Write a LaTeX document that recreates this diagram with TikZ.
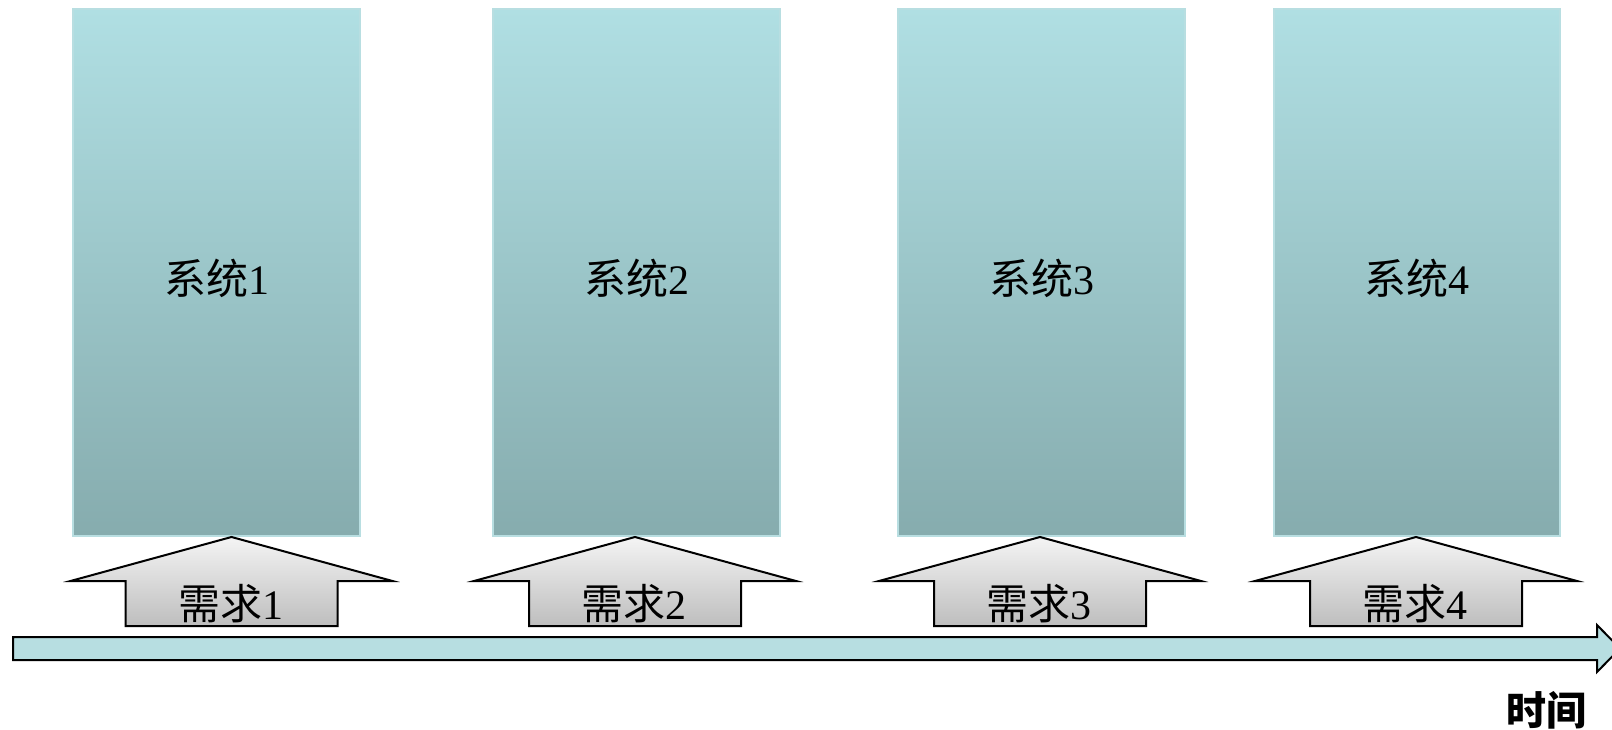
\documentclass[tikz,border=0pt]{standalone}
\usepackage{fontspec}
\setmainfont{Liberation Serif}
\newfontfamily\cjk{Noto Sans CJK SC}
\definecolor{boxtop}{HTML}{B0DFE3}
\definecolor{boxbot}{HTML}{86ACAE}
\definecolor{boxedge}{HTML}{B8DEE1}
\definecolor{arrtop}{HTML}{F4F4F4}
\definecolor{arrbot}{HTML}{BEBEBE}
\definecolor{timefill}{HTML}{B7DEE1}
\tikzset{
  sysbox/.style={draw=boxedge, line width=1.5pt, top color=boxtop, bottom color=boxbot, inner sep=0pt},
  reqarrow/.style={draw=black, line width=2pt, top color=arrtop, bottom color=arrbot, line join=miter},
  lbl/.style={inner sep=0pt, font=\fontsize{42}{44}\selectfont},
  timearrow/.style={draw=black, line width=2pt, fill=timefill, line join=miter}
}
\begin{document}
\begin{tikzpicture}[x=1pt,y=-1pt]
\useasboundingbox (0,0) rectangle (1612,730);
% system boxes
\foreach \i/\l/\r in {1/73/360, 2/493/780, 3/898/1185, 4/1274/1560}{
  \path[sysbox] (\l,9) rectangle (\r,536);
  \node[lbl] (sys\i) at ({(\l+\r)/2},278) {{\cjk 系统}\i};
}
% requirement arrows
\foreach \i/\c in {1/231.5, 2/635, 3/1040, 4/1416}{
  \path[reqarrow] (\c,537) -- ({\c+161},581) -- ({\c+106},581) -- ({\c+106},626)
     -- ({\c-106},626) -- ({\c-106},581) -- ({\c-161},581) -- cycle;
  \node[lbl] (req\i) at ({\c-1},604) {{\cjk 需求}\i};
}
% time axis
\path[timearrow] (13,637) -- (1597,637) -- (1597,625) -- (1620,648.5) -- (1597,672)
   -- (1597,660) -- (13,660) -- cycle;
\node[lbl, font=\fontsize{40}{42}\selectfont\cjk\bfseries] (time) at (1546,710) {时间};
\end{tikzpicture}
\end{document}
